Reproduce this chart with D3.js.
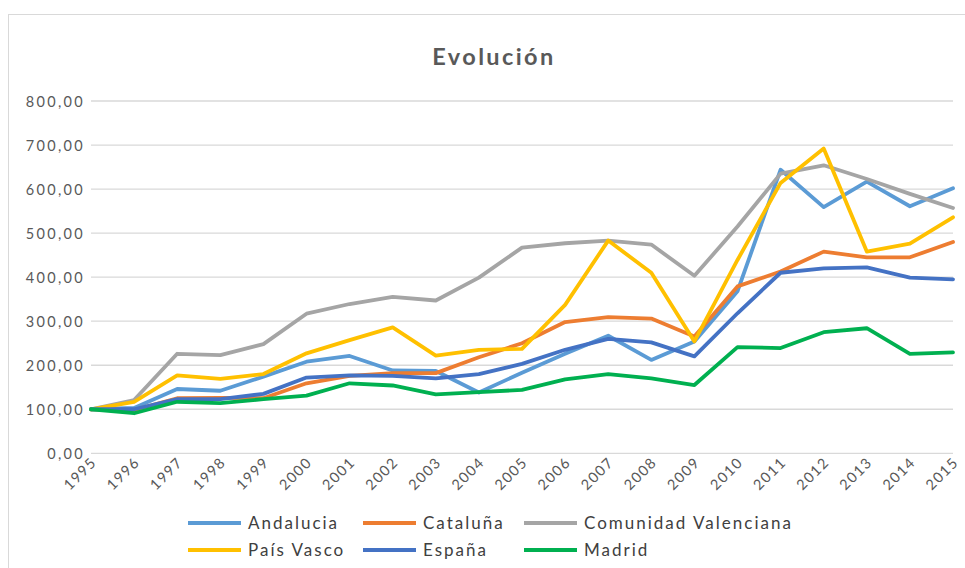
<!DOCTYPE html>
<html><head><meta charset="utf-8">
<script src="https://cdn.jsdelivr.net/npm/d3@7"></script>
<style>
html,body{margin:0;padding:0;background:#fff;}
svg{display:block;font-family:Lato,"Open Sans",sans-serif;}
</style></head>
<body>
<svg id="chart" width="965" height="568"></svg>
<script>
const years = ["1995","1996","1997","1998","1999","2000","2001","2002","2003","2004","2005","2006","2007","2008","2009","2010","2011","2012","2013","2014","2015"];
const andalucia = [100,103,146,142,174,208,221,188,187,138,183,226,267,212,254,368,644,559,617,561,602];
const cataluna = [100,98,125,126,125,159,176,182,182,218,250,298,309,306,265,379,413,458,445,445,480];
const comValenciana = [100,121,226,223,248,317,339,355,347,399,467,477,483,474,403,515,635,654,623,589,557];
const paisVasco = [100,117,177,169,180,227,257,286,222,235,237,337,483,410,254,439,614,692,458,476,536];
const espana = [100,100,123,123,135,172,177,176,170,180,203,235,260,252,220,318,410,420,422,399,395];
const madrid = [100,91,117,114,123,131,159,154,134,139,144,168,180,170,155,241,239,275,284,226,229];
const yTicks = [0,100,200,300,400,500,600,700,800];
const seriesNames = ["Andalucia","Cataluña","Comunidad Valenciana","País Vasco","España","Madrid"];
const seriesColors = ["#5B9BD5","#ED7D31","#A5A5A5","#FFC000","#4472C4","#00B050"];
const seriesValues = [andalucia,cataluna,comValenciana,paisVasco,espana,madrid];

const svg = d3.select("#chart");
const plotLeft = 91, plotRight = 953, plotTop = 101, plotBottom = 453.3;

svg.append("rect").attr("x",8.5).attr("y",14.5).attr("width",1000).attr("height",600)
  .attr("fill","#fff").attr("stroke","#D9D9D9").attr("stroke-width",1);

svg.append("text").attr("x",494).attr("y",65).attr("text-anchor","middle")
  .attr("font-size",23.5).attr("font-weight","bold").attr("fill","#595959")
  .attr("letter-spacing","2.4px").text("Evolución");

const x = d3.scalePoint().domain(years).range([plotLeft,plotRight]);
const y = d3.scaleLinear().domain([0,800]).range([plotBottom,plotTop]);

// gridlines
svg.append("g").selectAll("line").data(yTicks).join("line")
  .attr("x1",plotLeft).attr("x2",plotRight)
  .attr("y1",d=>y(d)).attr("y2",d=>y(d))
  .attr("stroke","#D9D9D9").attr("stroke-width",1.3);

// y axis labels
const yAxis = d3.axisLeft(y).tickValues(yTicks).tickSize(0).tickPadding(0)
  .tickFormat(d=>d3.format(".2f")(d).replace(".",","));
const gy = svg.append("g").attr("transform",`translate(${plotLeft-6},0)`).call(yAxis);
gy.select(".domain").remove();
gy.selectAll("text").attr("font-size",14.5).attr("fill","#595959")
  .attr("font-family","Lato,sans-serif").attr("letter-spacing","2.3px").attr("dy","0.35em");

// x axis labels
const xAxis = d3.axisBottom(x).tickSize(0).tickPadding(0);
const gx = svg.append("g").attr("transform",`translate(0,${plotBottom})`).call(xAxis);
gx.select(".domain").remove();
gx.selectAll("text").attr("font-size",14.5).attr("fill","#595959")
  .attr("font-family","Lato,sans-serif").attr("letter-spacing","1.4px")
  .attr("text-anchor","end").attr("dy",null).attr("y",null)
  .attr("transform","translate(6,10) rotate(-45)");

// lines
const line = d3.line().x((d,i)=>x(years[i])).y(d=>y(d));
svg.append("g").selectAll("path").data(seriesValues).join("path")
  .attr("d",d=>line(d)).attr("fill","none")
  .attr("stroke",(d,i)=>seriesColors[i]).attr("stroke-width",3.8)
  .attr("stroke-linejoin","round").attr("stroke-linecap","round");

// legend
const legX = [188,363,524], legY = [523,550];
const lg = svg.append("g").selectAll("g").data(seriesNames).join("g")
  .attr("transform",(d,i)=>`translate(${legX[i%3]},${legY[Math.floor(i/3)]})`);
lg.append("line").attr("x1",0).attr("x2",53).attr("y1",0).attr("y2",0)
  .attr("stroke",(d,i)=>seriesColors[i]).attr("stroke-width",4);
lg.append("text").attr("x",60).attr("y",0).attr("dy","0.36em")
  .attr("font-size",17).attr("fill","#404040").attr("letter-spacing","2px").text(d=>d);
</script>
</body></html>
